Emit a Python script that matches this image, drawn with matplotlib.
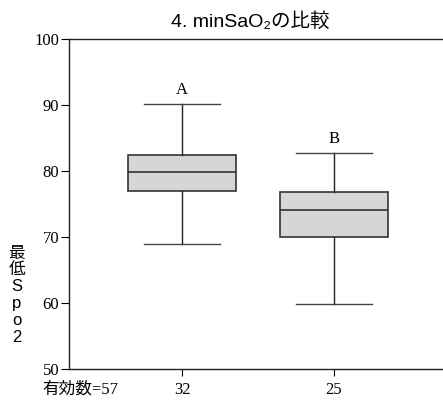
import matplotlib
matplotlib.use("Agg")
import matplotlib.pyplot as plt

plt.rcParams['font.family'] = ['Liberation Sans', 'Noto Sans CJK JP', 'DejaVu Sans']

# 箱ひげ図の統計量
groups = ["32", "25"]
letters = ["A", "B"]
whis_hi = [90.2, 82.8]
q3 = [82.4, 76.8]
med = [79.8, 74.1]
q1 = [77.0, 70.0]
whis_lo = [68.9, 59.8]
n_total = "有効数=57"

stats = []
for i in range(len(groups)):
    stats.append(dict(label=groups[i], med=med[i], q1=q1[i], q3=q3[i],
                      whislo=whis_lo[i], whishi=whis_hi[i], fliers=[]))

fig = plt.figure(figsize=(4.43, 4.01), dpi=100)
ax = fig.add_axes([0.1558, 0.0798, 0.8442, 0.8229])

pos = [1, 2]
bp = ax.bxp(stats, positions=pos, widths=0.71, patch_artist=True,
            showfliers=False,
            boxprops=dict(facecolor="#d6d6d6", edgecolor="#333333", linewidth=1.2),
            medianprops=dict(color="#333333", linewidth=1.2),
            whiskerprops=dict(color="#222222", linewidth=1.0),
            capprops=dict(color="#444444", linewidth=1.0),
            capwidths=0.5)

# 群の記号
for i in range(len(groups)):
    ax.text(pos[i], whis_hi[i] + 0.8, letters[i], ha="center", va="bottom",
            fontsize=12, family="Liberation Serif")

ax.set_xlim(0.257, 2.717)
ax.set_ylim(50, 100)
ax.set_yticks([50, 60, 70, 80, 90, 100])
ax.set_xticks(pos)
ax.set_xticklabels(groups)
for lab in ax.get_xticklabels() + ax.get_yticklabels():
    lab.set_family("Liberation Serif")
    lab.set_fontsize(12)
ax.tick_params(axis="y", length=6, width=0.8, pad=1)
ax.tick_params(axis="x", length=5, width=0.8, pad=4)
ax.spines["right"].set_visible(False)
for s in ["top", "bottom", "left"]:
    ax.spines[s].set_linewidth(1.0)
    ax.spines[s].set_color("#222222")

# 有効数
ax.annotate(n_total, xy=(0.03, 0), xycoords="axes fraction",
            xytext=(0, -9), textcoords="offset points", ha="center", va="top",
            fontsize=12, family=["Liberation Serif", "Noto Sans CJK JP"])

fig.text(0.038, 0.264, "最\n低\nS\np\no\n2", ha="center", va="center",
         fontsize=12, linespacing=1.15)

fig.text(0.565, 0.945, "4. minSaO₂の比較", ha="center", va="center", fontsize=14)

fig.savefig("out.png", dpi=100)
